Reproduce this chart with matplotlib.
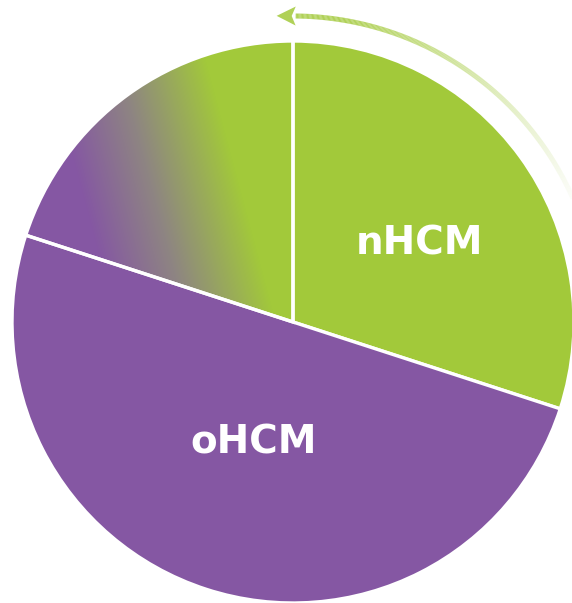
import numpy as np
import matplotlib
matplotlib.use("Agg")
import matplotlib.pyplot as plt
from matplotlib.colors import LinearSegmentedColormap, to_rgba
from matplotlib.collections import LineCollection
from matplotlib.patches import Polygon

# data: share of each slice (percent), clockwise from 12 o'clock
labels = ["nHCM", "oHCM", ""]
shares = [30, 50, 20]

GREEN = "#A2C93A"
PURPLE = "#8557A3"
slice_colors = [GREEN, PURPLE, "none"]  # last slice gets a gradient fill
label_dist = [0.53, 0.45, 0]
label_turn = [-4, 0, 0]  # small angle tweak (deg) for label placement

W, H = 572, 603
cx, cy, r = 293, H - 322, 281

fig = plt.figure(figsize=(W / 100, H / 100), dpi=100)
ax = fig.add_axes([0, 0, 1, 1])

wedges, _ = ax.pie(shares, colors=slice_colors, startangle=90, counterclock=False,
                   center=(cx, cy), radius=r, frame=True,
                   wedgeprops=dict(edgecolor="white", linewidth=2.4))

# gradient fill for the transition slice (purple -> green)
cmap = LinearSegmentedColormap.from_list(
    "trans", [(0, PURPLE), (0.45, "#8E8582"), (1, GREEN)])
ang = np.deg2rad(15)
xs, ys = np.meshgrid(np.arange(W) + 0.5, np.arange(H) + 0.5)
s = xs * np.cos(ang) + ys * np.sin(ang)
t = np.clip((s - 185) / (340 - 185), 0, 1)
img = ax.imshow(t, extent=(0, W, 0, H), origin="lower", cmap=cmap, zorder=0)
img.set_clip_path(wedges[2])

# slice labels
for w, lab, d, turn in zip(wedges, labels, label_dist, label_turn):
    if not lab:
        continue
    mid = np.deg2rad((w.theta1 + w.theta2) / 2 + turn)
    ax.text(cx + d * r * np.cos(mid), cy + d * r * np.sin(mid), lab,
            color="white", fontsize=28, fontweight="bold", family="DejaVu Sans",
            ha="center", va="center", zorder=5)

# fading arrow around the top right of the pie
ra = 306
th = np.deg2rad(np.linspace(20, 89.5, 300))
px, py = cx + ra * np.cos(th), cy + ra * np.sin(th)
pts = np.column_stack([px, py]).reshape(-1, 1, 2)
segs = np.concatenate([pts[:-1], pts[1:]], axis=1)
alpha = np.clip((np.rad2deg(th[:-1]) - 20) / 60, 0, 1) ** 1.2 * 0.85
base = np.array(to_rgba(GREEN))
cols = np.tile(base, (len(segs), 1))
cols[:, 3] = alpha
ax.add_collection(LineCollection(segs, colors=cols, linewidth=3.6, capstyle="butt", zorder=4))

end = np.array([px[-1], py[-1]])
tan = np.array([-np.sin(th[-1]), np.cos(th[-1])])
nor = np.array([np.cos(th[-1]), np.sin(th[-1])])
tip = end + tan * 19
head = Polygon([tip, end + nor * 9.5, end + tan * 4, end - nor * 9.5],
               closed=True, facecolor=GREEN, alpha=0.85, edgecolor="none", zorder=4)
ax.add_patch(head)

ax.set_xlim(0, W)
ax.set_ylim(0, H)
ax.set_aspect("equal")
ax.axis("off")

fig.savefig("out.png", dpi=100)
